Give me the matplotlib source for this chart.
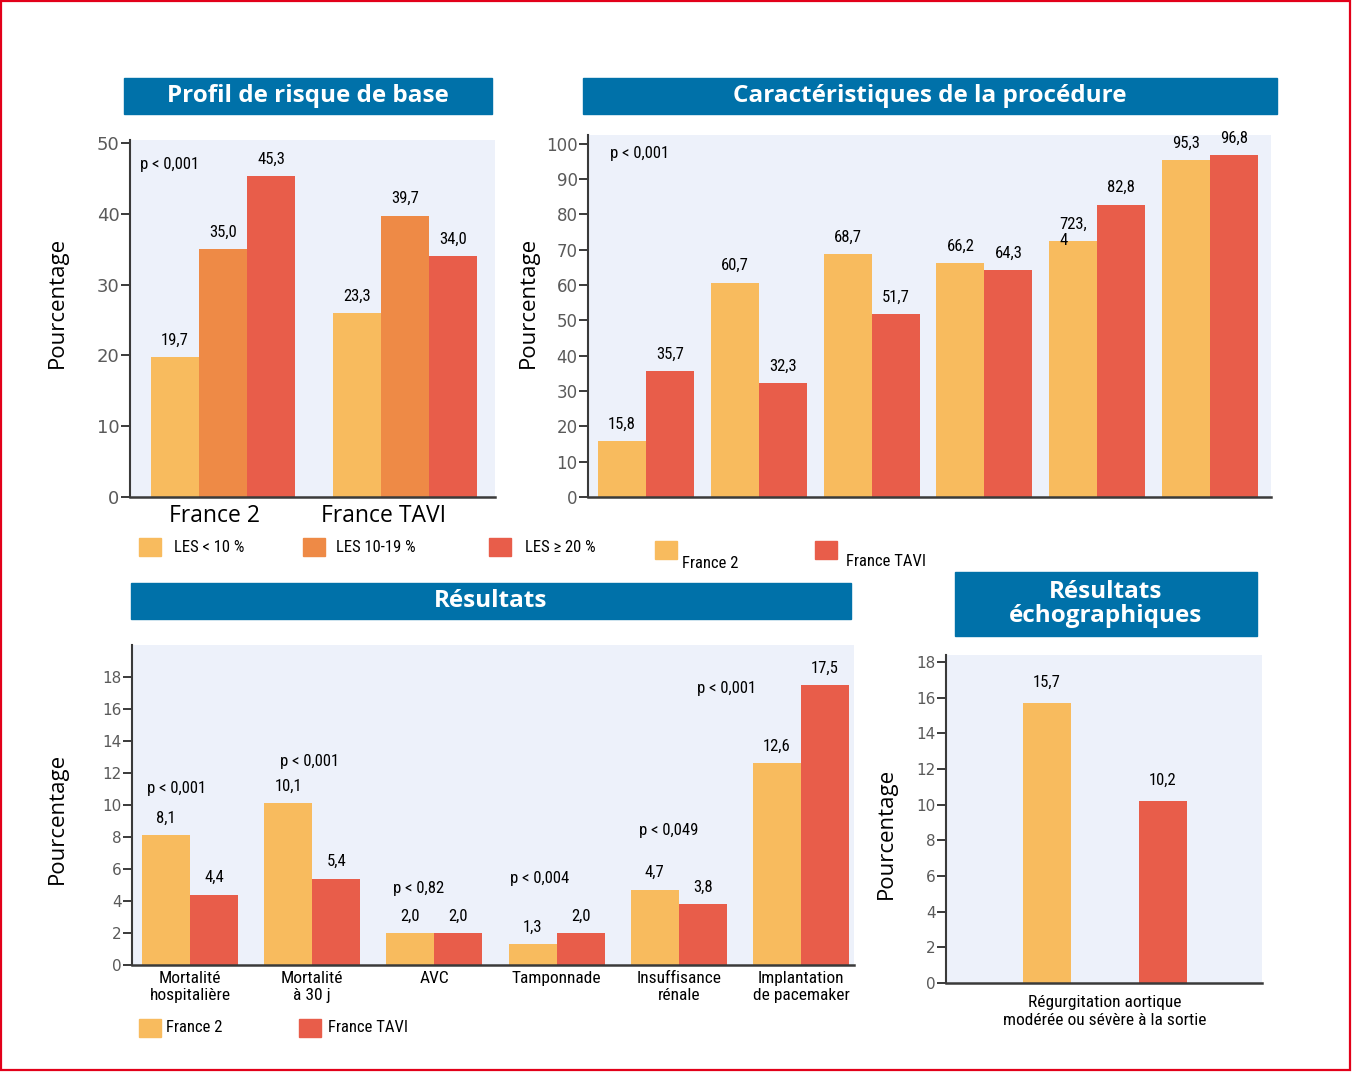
import matplotlib
matplotlib.use('Agg')
import matplotlib.pyplot as plt
from matplotlib import font_manager as fm
from matplotlib.patches import Rectangle
import numpy as np

# ---- data ----
series = ['France 2', 'France TAVI']

risk_groups = ['France 2', 'France TAVI']
les_classes = ['LES < 10 %', 'LES 10-19 %', 'LES \u2265 20 %']
les_lt10 = [19.7, 23.3]
les_10_19 = [35.0, 39.7]
les_ge20 = [45.3, 34.0]
les_lt10_drawn = [19.7, 26.0]  # bar height as drawn in the source (label says 23,3)

proc_fr2 = [15.8, 60.7, 68.7, 66.2, 72.4, 95.3]
proc_tavi = [35.7, 32.3, 51.7, 64.3, 82.8, 96.8]

res_cats = ['Mortalit\u00e9\nhospitali\u00e8re', 'Mortalit\u00e9\n\u00e0 30 j', 'AVC',
            'Tamponnade', 'Insuffisance\nr\u00e9nale', 'Implantation\nde pacemaker']
res_fr2 = [8.1, 10.1, 2.0, 1.3, 4.7, 12.6]
res_tavi = [4.4, 5.4, 2.0, 2.0, 3.8, 17.5]
res_pvals = ['p < 0,001', 'p < 0,001', 'p < 0,82', 'p < 0,004', 'p < 0,049', 'p < 0,001']

echo_cat = 'R\u00e9gurgitation aortique\nmod\u00e9r\u00e9e ou s\u00e9v\u00e8re \u00e0 la sortie'
echo_vals = [15.7, 10.2]

# ---- fonts / colours ----
names = {f.name for f in fm.fontManager.ttflist}
NARROW = next((n for n in ['Liberation Sans Narrow', 'Roboto Condensed', 'Open Sans Condensed']
               if n in names), 'Liberation Sans')
REG = 'Open Sans' if 'Open Sans' in names else 'DejaVu Sans'
plt.rcParams['font.family'] = [NARROW, 'DejaVu Sans']

YEL = '#F8BB5E'
ORA = '#EE8A46'
RED = '#E85D4A'
BG = '#EDF1FA'
BLUE = '#0071A9'
AXC = '#3a3a3a'

W, H = 1353, 1074
fig = plt.figure(figsize=(W / 100, H / 100), dpi=100)


def rect(x0, y0, x1, y1):
    return [x0 / W, 1 - y1 / H, (x1 - x0) / W, (y1 - y0) / H]


def fmt(v):
    return f'{v:.1f}'.replace('.', ',')


def title_box(x0, y0, x1, y1, text):
    fig.patches.append(Rectangle((x0 / W, 1 - y1 / H), (x1 - x0) / W, (y1 - y0) / H,
                                 transform=fig.transFigure, color=BLUE, zorder=0))
    fig.text((x0 + x1) / 2 / W, 1 - (y0 + y1) / 2 / H, text, ha='center', va='center',
             color='white', fontsize=17.5, fontweight='bold', family=REG, linespacing=0.95)


def legend_item(x, y, color, label, tx, ty):
    fig.patches.append(Rectangle((x / W, 1 - (y + 18) / H), 22 / W, 18 / H,
                                 transform=fig.transFigure, color=color))
    fig.text(tx / W, 1 - ty / H, label, ha='left', va='center', fontsize=12, family=NARROW)


def ylab(x, y):
    fig.text(x / W, 1 - y / H, 'Pourcentage', rotation=90, ha='center', va='center',
             fontsize=16, family=REG)


def style(ax, top, yticks, fs):
    ax.set_facecolor(BG)
    ax.set_ylim(0, top)
    ax.set_yticks(yticks)
    for s in ['top', 'right']:
        ax.spines[s].set_visible(False)
    ax.spines['left'].set_color(AXC)
    ax.spines['left'].set_linewidth(1.5)
    ax.spines['bottom'].set_color(AXC)
    ax.spines['bottom'].set_linewidth(1.8)
    ax.tick_params(axis='y', length=6.5, width=1.4, color=AXC, labelsize=fs,
                   labelcolor='#5a5a5a', pad=1)
    for t in ax.get_yticklabels():
        t.set_family('DejaVu Sans')
    ax.tick_params(axis='x', length=0)


def label_bars(ax, bars, texts, dy=17):
    for b, t in zip(bars, texts):
        ax.annotate(t, (b.get_x() + b.get_width() / 2, b.get_height()), xytext=(0, dy),
                    textcoords='offset pixels', ha='center', va='center', fontsize=12)


# border
fig.patches.append(Rectangle((1 / W, 1 - 1070 / H), 1349 / W, 1069 / H, transform=fig.transFigure,
                             fill=False, edgecolor='#E2001A', linewidth=1.6))

# ---- panel 1: profil de risque ----
title_box(124, 78, 492, 114, 'Profil de risque de base')
ax1 = fig.add_axes(rect(130, 140, 495, 497))
style(ax1, 50.4, range(0, 51, 10), 13)
x = np.arange(len(risk_groups))
w = 48 / 182
for i, (drawn, vals, col) in enumerate(zip([les_lt10_drawn, les_10_19, les_ge20],
                                           [les_lt10, les_10_19, les_ge20], [YEL, ORA, RED])):
    bars = ax1.bar(x + (i - 1) * w, drawn, w, color=col, linewidth=0)
    label_bars(ax1, bars, [fmt(v) for v in vals])
ax1.set_xlim((130 - 223) / 182, (495 - 223) / 182)
# group names sit a little left of the bar groups in the source
ax1.set_xticks(x + np.array([-0.044, -0.12]), risk_groups, fontsize=16.5, family=REG)
ax1.tick_params(axis='x', pad=5)
ax1.text(-0.456, 46.9, 'p < 0,001', ha='left', va='center', fontsize=12)
ylab(57, 302)

legend_item(139, 538, YEL, les_classes[0], 174, 547)
legend_item(303, 538, ORA, les_classes[1], 336, 547)
legend_item(489, 538, RED, les_classes[2], 525, 547)

# ---- panel 2: caractéristiques de la procédure ----
title_box(583, 78, 1277, 114, 'Caract\u00e9ristiques de la proc\u00e9dure')
ax2 = fig.add_axes(rect(588, 135, 1271, 497))
style(ax2, 102.5, range(0, 101, 10), 12)
x = np.arange(len(proc_fr2))
sp = 112.8
w = 48 / sp
b_fr2 = ax2.bar(x - w / 2, proc_fr2, w, color=YEL, linewidth=0)
b_tavi = ax2.bar(x + w / 2, proc_tavi, w, color=RED, linewidth=0)
fr2_txt = [fmt(v) for v in proc_fr2]
label_bars(ax2, [b for k, b in enumerate(b_fr2) if k != 4], [t for k, t in enumerate(fr2_txt) if k != 4])
b = b_fr2[4]
ax2.annotate('723,\n4', (b.get_x(), b.get_height()), xytext=(10, 9), textcoords='offset pixels',
             ha='left', va='center', fontsize=12, multialignment='left', linespacing=1.1)
label_bars(ax2, b_tavi, [fmt(v) for v in proc_tavi])
ax2.set_xlim((588 - 646) / sp, (1271 - 646) / sp)
ax2.set_xticks([])
ax2.text(0.032, 97.2, 'p < 0,001', transform=ax2.get_yaxis_transform(), ha='left', va='center', fontsize=12)
ylab(528, 302)

legend_item(655, 541, YEL, series[0], 682, 563)
legend_item(815, 541, RED, series[1], 846, 562)

# ---- panel 3: résultats ----
title_box(131, 583, 851, 619, 'R\u00e9sultats')
ax3 = fig.add_axes(rect(132, 645, 854, 965))
style(ax3, 20, range(0, 19, 2), 11)
x = np.arange(len(res_cats))
sp = 122.2
w = 48 / sp
b1 = ax3.bar(x - w / 2, res_fr2, w, color=YEL, linewidth=0)
b2 = ax3.bar(x + w / 2, res_tavi, w, color=RED, linewidth=0)
label_bars(ax3, b1, [fmt(v) for v in res_fr2])
label_bars(ax3, b2, [fmt(v) for v in res_tavi])
p_place = [(-0.11, 11.06), (-0.02, 12.7), (-0.13, 4.75), (-0.14, 5.4), (-0.08, 8.4), (-0.61, 17.3)]
for i, (p, (dx, py)) in enumerate(zip(res_pvals, p_place)):
    ax3.text(i + dx, py, p, ha='center', va='center', fontsize=12)
ax3.set_xlim((132 - 190) / sp, (854 - 190) / sp)
ax3.set_xticks(x, res_cats, fontsize=12.5, linespacing=1.2)
ax3.tick_params(axis='x', pad=4)
ylab(57, 818)

legend_item(139, 1019, YEL, series[0], 166, 1028)
legend_item(299, 1019, RED, series[1], 328, 1028)

# ---- panel 4: résultats échographiques ----
title_box(955, 572, 1257, 636, 'R\u00e9sultats\n\u00e9chographiques')
ax4 = fig.add_axes(rect(946, 655, 1262, 983))
style(ax4, 18.4, range(0, 19, 2), 11)
sp = 116
w = 48 / sp
b4 = ax4.bar([0, 1], echo_vals, w, color=[YEL, RED], linewidth=0)
label_bars(ax4, b4, [fmt(v) for v in echo_vals], dy=21)
ax4.set_xlim((946 - 1047) / sp, (1262 - 1047) / sp)
ax4.set_xticks([0.5], [echo_cat], fontsize=12.5, linespacing=1.2)
ax4.tick_params(axis='x', pad=9)
ylab(886, 833)

fig.savefig('out.png', dpi=100)
